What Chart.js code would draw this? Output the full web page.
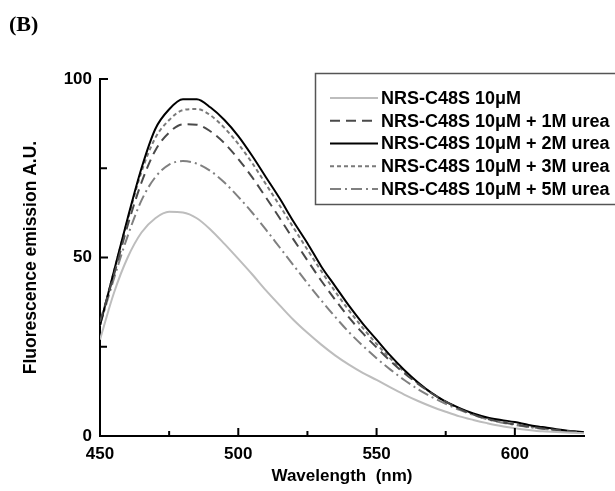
<!DOCTYPE html>
<html>
<head>
<meta charset="utf-8">
<script src="https://cdn.jsdelivr.net/npm/chart.js@4.4.0/dist/chart.umd.min.js"></script>
<style>
  html, body { margin: 0; padding: 0; background: #fff; }
  #wrap { width: 615px; height: 491px; position: relative; }
</style>
</head>
<body>
<div id="wrap"><canvas id="grafica" width="615" height="491"></canvas></div>
<script>
// wavelengths (nm)
const longitudes = [450, 455, 460, 465, 470, 475, 480, 485, 490, 495, 500, 505, 510, 515, 520, 525,
  530, 535, 540, 545, 550, 555, 560, 565, 570, 575, 580, 585, 590, 595, 600, 605, 610, 615, 620, 625];

const etiquetas = ['NRS-C48S 10\u03BCM', 'NRS-C48S 10\u03BCM + 1M urea', 'NRS-C48S 10\u03BCM + 2M urea',
  'NRS-C48S 10\u03BCM + 3M urea', 'NRS-C48S 10\u03BCM + 5M urea'];

const sinUrea = [27, 40, 50, 57, 61, 62.8, 62.6, 61, 57.8, 53.8, 49.6, 45.3, 40.8, 36.6, 32.5, 28.9,
  25.6, 22.6, 20, 17.7, 15.7, 13.6, 11.6, 9.8, 8.2, 6.8, 5.5, 4.5, 3.6, 2.8, 2.2, 1.7, 1.3, 1.1, 0.9, 0.8];
const urea1M = [32, 45, 59, 71, 80, 85, 87.3, 87.2, 85.3, 82, 77.6, 72.5, 66.8, 61, 55, 49.2,
  43.5, 38.2, 33.2, 28.8, 24.8, 21, 17.6, 14.6, 11.9, 9.6, 7.6, 6, 4.8, 3.9, 3.2, 2.6, 2.1, 1.7, 1.3, 1];
const urea2M = [31, 46, 61, 75, 86, 91.5, 94.3, 94.3, 92, 88.5, 84, 78.5, 72.5, 66.5, 60, 54,
  47.5, 42, 36.5, 31.5, 27, 22.5, 18.5, 15, 12, 9.6, 7.8, 6.3, 5.2, 4.5, 3.9, 3.1, 2.5, 1.9, 1.4, 1.1];
const urea3M = [31, 46, 60.5, 74, 83.5, 88.5, 91.3, 91.6, 89.8, 86.3, 81.8, 76.5, 70.5, 64.5, 58.3, 52.2,
  46.2, 40.5, 35.2, 30.3, 25.8, 21.7, 18, 14.8, 12, 9.6, 7.7, 6.1, 4.9, 4, 3.3, 2.7, 2.2, 1.7, 1.3, 1];
const urea5M = [31, 44, 56, 66, 72.5, 76, 77, 76.3, 74.2, 71, 67, 62.6, 57.8, 52.8, 47.8, 42.8,
  38, 33.4, 29.1, 25.3, 21.8, 18.6, 15.7, 13.1, 10.9, 9, 7.3, 5.9, 4.7, 3.8, 3.1, 2.5, 2, 1.6, 1.2, 1];

const ticksX = [450, 500, 550, 600];
const ticksXmenores = [475, 525, 575];
const ticksY = [0, 50, 100];
const ticksYmenores = [25, 75];

const fuente = "'Liberation Sans', Arial, sans-serif";

function serie(label, valores, color, guiones, ancho) {
  return {
    label: label,
    data: longitudes.map((x, i) => ({ x: x, y: valores[i] })),
    borderColor: color,
    borderDash: guiones,
    borderWidth: ancho,
    pointRadius: 0,
    tension: 0.4,
    cubicInterpolationMode: 'monotone',
    fill: false
  };
}

const datasets = [
  serie(etiquetas[0], sinUrea, '#bdbdbd', [], 2),
  serie(etiquetas[1], urea1M, '#4a4a4a', [10, 6], 2),
  serie(etiquetas[2], urea2M, '#000000', [], 2),
  serie(etiquetas[3], urea3M, '#7a7a7a', [4, 3], 2),
  serie(etiquetas[4], urea5M, '#808080', [11, 4, 2, 4], 2)
];

// ticks hacia dentro, leyenda y etiqueta (B)
const extras = {
  id: 'extras',
  afterDatasetsDraw(chart) {
    const ctx = chart.ctx;
    const sx = chart.scales.x, sy = chart.scales.y;
    const area = chart.chartArea;
    ctx.save();
    ctx.strokeStyle = '#000';
    ctx.lineWidth = 2;
    ctx.beginPath();
    ticksX.forEach(v => { const p = sx.getPixelForValue(v); ctx.moveTo(p, area.bottom); ctx.lineTo(p, area.bottom - 8); });
    ticksXmenores.forEach(v => { const p = sx.getPixelForValue(v); ctx.moveTo(p, area.bottom); ctx.lineTo(p, area.bottom - 5); });
    ticksY.forEach(v => { const p = sy.getPixelForValue(v); ctx.moveTo(area.left, p); ctx.lineTo(area.left + 8, p); });
    ticksYmenores.forEach(v => { const p = sy.getPixelForValue(v); ctx.moveTo(area.left, p); ctx.lineTo(area.left + 7, p); });
    ctx.stroke();

    // leyenda
    ctx.fillStyle = '#fff';
    ctx.fillRect(315, 73, 310, 132);
    ctx.strokeStyle = '#555';
    ctx.lineWidth = 1.5;
    ctx.strokeRect(315.5, 73.5, 310, 131);
    ctx.font = 'bold 18px ' + fuente;
    ctx.textBaseline = 'middle';
    chart.data.datasets.forEach((ds, i) => {
      const y = 98 + i * 22.75;
      ctx.strokeStyle = ds.borderColor;
      ctx.lineWidth = ds.borderWidth;
      ctx.setLineDash(ds.borderDash);
      ctx.beginPath();
      ctx.moveTo(330, y);
      ctx.lineTo(378, y);
      ctx.stroke();
      ctx.setLineDash([]);
      ctx.fillStyle = '#000';
      ctx.fillText(ds.label, 381, y + 1);
    });

    ctx.font = "bold 22px 'Liberation Serif', 'Times New Roman', serif";
    ctx.textBaseline = 'alphabetic';
    ctx.fillText('(B)', 9, 31);
    ctx.restore();
  }
};

new Chart(document.getElementById('grafica'), {
  type: 'line',
  data: { datasets: datasets },
  options: {
    responsive: false,
    animation: false,
    layout: { padding: { top: 79, right: 31, left: 0, bottom: 0 } },
    plugins: { legend: { display: false }, tooltip: { enabled: false } },
    scales: {
      x: {
        type: 'linear',
        min: 450,
        max: 625,
        grid: { display: false, drawTicks: false },
        border: { color: '#000', width: 2 },
        ticks: {
          stepSize: 50,
          padding: 8,
          color: '#000',
          font: { family: fuente, size: 17, weight: 'bold' }
        },
        afterBuildTicks: s => { s.ticks = ticksX.map(v => ({ value: v })); },
        afterFit: s => { s.height = 55; },
        title: {
          display: true,
          text: 'Wavelength  (nm)',
          color: '#000',
          font: { family: fuente, size: 17, weight: 'bold' },
          padding: { top: 0, bottom: 4 }
        }
      },
      y: {
        min: 0,
        max: 100,
        grid: { display: false, drawTicks: false },
        border: { color: '#000', width: 2 },
        ticks: {
          stepSize: 50,
          padding: 8,
          color: '#000',
          font: { family: fuente, size: 17, weight: 'bold' }
        },
        afterBuildTicks: s => { s.ticks = ticksY.map(v => ({ value: v })); },
        afterFit: s => { s.width = 100; },
        title: {
          display: true,
          text: 'Fluorescence emission A.U.',
          color: '#000',
          font: { family: fuente, size: 17.5, weight: 'bold' },
          padding: { top: 21, bottom: 0 }
        }
      }
    }
  },
  plugins: [extras]
});
</script>
</body>
</html>
